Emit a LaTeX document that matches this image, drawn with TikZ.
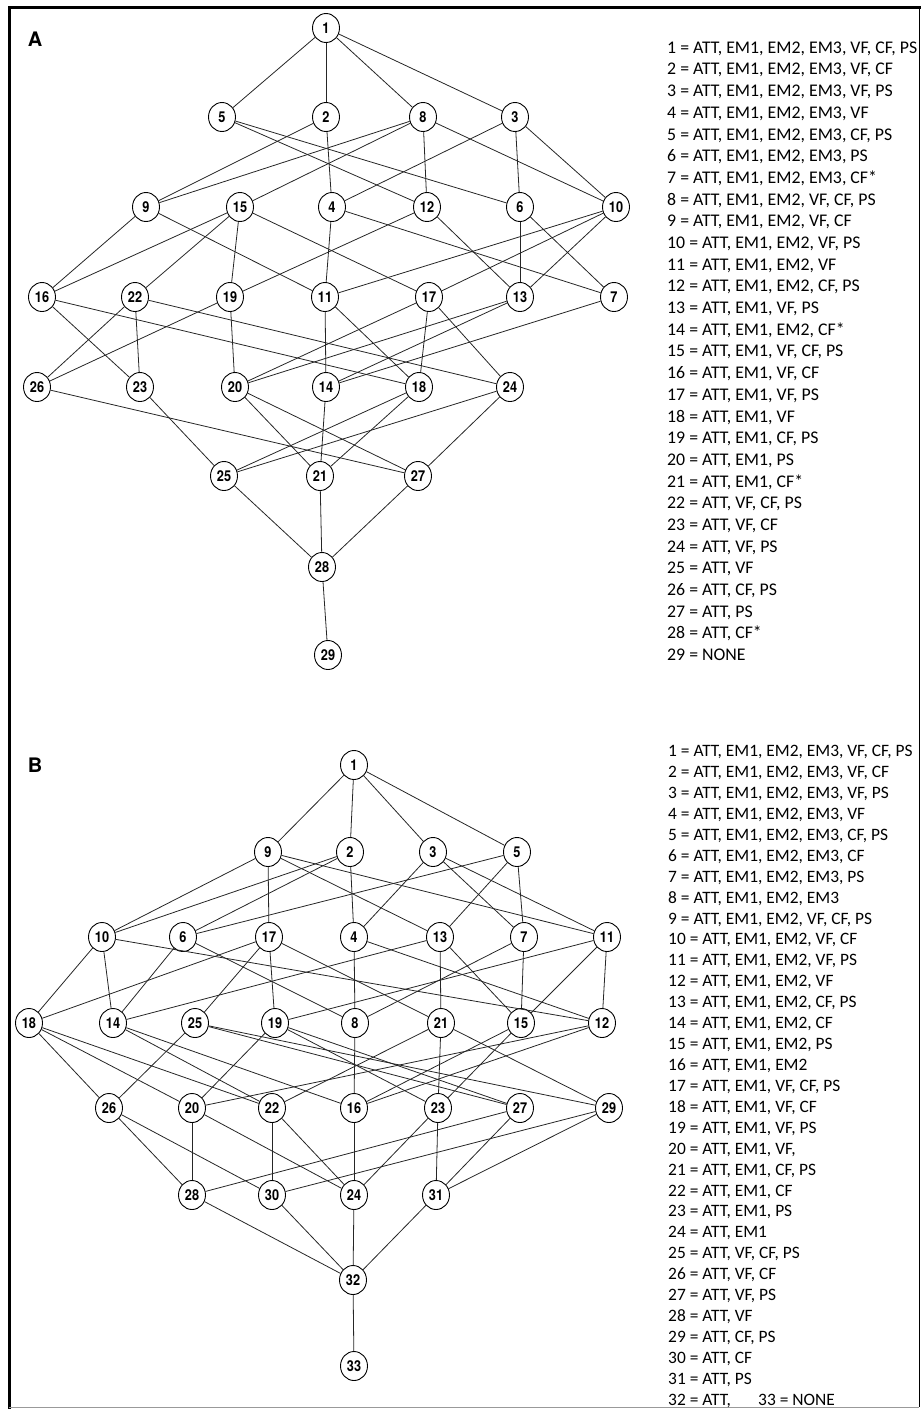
\documentclass[tikz,border=0pt]{standalone}
\usepackage{fontspec}
\setmainfont{Carlito}
\newfontfamily\lblfont[FakeStretch=0.85]{TeX Gyre Heros}
\newfontfamily\panelfont{TeX Gyre Heros}
\usetikzlibrary{shapes.geometric}

\tikzset{
  v/.style={ellipse,draw,line width=0.9pt,fill=white,minimum width=27pt,minimum height=29pt,inner sep=0pt,font=\lblfont\bfseries\fontsize{15}{15}\selectfont},
  lnk/.style={line width=0.8pt,black!85},
  keytxt/.style={anchor=base west,inner sep=0pt,font=\fontsize{17.8}{20}\selectfont},
  keytxtb/.style={keytxt,font=\fontsize{17.4}{20}\selectfont},
  panel/.style={font=\panelfont\bfseries\fontsize{20}{20}\selectfont}
}

\begin{document}
\begin{tikzpicture}[x=1pt,y=-1pt]
\useasboundingbox (0,0) rectangle (922,1409);
% frame
\draw[line width=3pt] (9,1409) -- (9,7) -- (921,7);
\draw[line width=0.8pt] (919,7) -- (919,1407);
\draw[line width=0.8pt,black!40] (9,1407.5) -- (919,1407.5);

%%% panel A
\node[panel] (pA) at (35,39) {A};
\node[v] (a1) at (326,28) {1};
\node[v] (a5) at (222,117) {5};
\node[v] (a2) at (326,117) {2};
\node[v] (a8) at (423,117) {8};
\node[v] (a3) at (515,117) {3};
\node[v] (a9) at (146,207) {9};
\node[v] (a15) at (240,207) {15};
\node[v] (a4) at (332,207) {4};
\node[v] (a12) at (427,207) {12};
\node[v] (a6) at (520,207) {6};
\node[v] (a10) at (616,207) {10};
\node[v] (a16) at (42,297) {16};
\node[v] (a22) at (135,297) {22};
\node[v] (a19) at (230,297) {19};
\node[v] (a11) at (325,297) {11};
\node[v] (a17) at (429,297) {17};
\node[v] (a13) at (520,297) {13};
\node[v] (a7) at (614,297) {7};
\node[v] (a26) at (37,387) {26};
\node[v] (a23) at (140,387) {23};
\node[v] (a20) at (235,387) {20};
\node[v] (a14) at (326,387) {14};
\node[v] (a18) at (419,387) {18};
\node[v] (a24) at (510,387) {24};
\node[v] (a25) at (224,476) {25};
\node[v] (a21) at (320,476) {21};
\node[v] (a27) at (418,476) {27};
\node[v] (a28) at (322,567) {28};
\node[v] (a29) at (328,655) {29};

\path[lnk]
(a1) edge (a5) edge (a2) edge (a8) edge (a3)
(a5) edge (a12) edge (a6)
(a2) edge (a9) edge (a4)
(a8) edge (a9) edge (a15) edge (a12) edge (a10)
(a3) edge (a4) edge (a6) edge (a10)
(a9) edge (a16) edge (a11)
(a15) edge (a16) edge (a22) edge (a19) edge (a17)
(a4) edge (a11) edge (a7)
(a12) edge (a19) edge (a13)
(a6) edge (a13) edge (a7)
(a10) edge (a11) edge (a17) edge (a13)
(a16) edge (a23) edge (a18)
(a22) edge (a26) edge (a23) edge (a24)
(a19) edge (a26) edge (a20)
(a11) edge (a14) edge (a18)
(a17) edge (a20) edge (a18) edge (a24)
(a13) edge (a20) edge (a14)
(a7) edge (a14)
(a26) edge (a27)
(a23) edge (a25)
(a20) edge (a21) edge (a27)
(a14) edge (a21)
(a18) edge (a25) edge (a21)
(a24) edge (a25) edge (a27)
(a25) edge (a28)
(a21) edge (a28)
(a27) edge (a28)
(a28) edge (a29)
;

% key A
\foreach \t [count=\i] in {{ATT, EM1, EM2, EM3, VF, CF, PS},{ATT, EM1, EM2, EM3, VF, CF},
  {ATT, EM1, EM2, EM3, VF, PS},{ATT, EM1, EM2, EM3, VF},{ATT, EM1, EM2, EM3, CF, PS},
  {ATT, EM1, EM2, EM3, PS},{ATT, EM1, EM2, EM3, CF*},{ATT, EM1, EM2, VF, CF, PS},
  {ATT, EM1, EM2, VF, CF},{ATT, EM1, EM2, VF, PS},{ATT, EM1, EM2, VF},
  {ATT, EM1, EM2, CF, PS},{ATT, EM1, VF, PS},{ATT, EM1, EM2, CF*},{ATT, EM1, VF, CF, PS},
  {ATT, EM1, VF, CF},{ATT, EM1, VF, PS},{ATT, EM1, VF},{ATT, EM1, CF, PS},{ATT, EM1, PS},
  {ATT, EM1, CF*},{ATT, VF, CF, PS},{ATT, VF, CF},{ATT, VF, PS},{ATT, VF},{ATT, CF, PS},
  {ATT, PS},{ATT, CF*},{NONE}}
  \node[keytxt] (ka\i) at (667,{53.3+21.69*(\i-1)}) {\i{} = \t};

%%% panel B
\node[panel] (pB) at (35,765) {B};
\node[v] (b1) at (354,765) {1};
\node[v] (b9) at (268,852) {9};
\node[v] (b2) at (350,852) {2};
\node[v] (b3) at (433,852) {3};
\node[v] (b5) at (517,852) {5};
\node[v] (b10) at (102,937) {10};
\node[v] (b6) at (183,937) {6};
\node[v] (b17) at (269,937) {17};
\node[v] (b4) at (354,937) {4};
\node[v] (b13) at (440,937) {13};
\node[v] (b7) at (524,937) {7};
\node[v] (b11) at (607,937) {11};
\node[v] (b18) at (29,1023) {18};
\node[v] (b14) at (113,1023) {14};
\node[v] (b25) at (195,1023) {25};
\node[v] (b19) at (275,1023) {19};
\node[v] (b8) at (355,1023) {8};
\node[v] (b21) at (441,1023) {21};
\node[v] (b15) at (521,1023) {15};
\node[v] (b12) at (602,1023) {12};
\node[v] (b26) at (109,1108) {26};
\node[v] (b20) at (192,1108) {20};
\node[v] (b22) at (272,1108) {22};
\node[v] (b16) at (354,1108) {16};
\node[v] (b23) at (438,1108) {23};
\node[v] (b27) at (520,1108) {27};
\node[v] (b29) at (609,1108) {29};
\node[v] (b28) at (192,1195) {28};
\node[v] (b30) at (272,1195) {30};
\node[v] (b24) at (354,1195) {24};
\node[v] (b31) at (436,1195) {31};
\node[v] (b32) at (353,1280) {32};
\node[v] (b33) at (354,1366) {33};

\path[lnk]
(b1) edge (b9) edge (b2) edge (b3) edge (b5)
(b9) edge (b10) edge (b17) edge (b13) edge (b11)
(b2) edge (b10) edge (b6) edge (b4)
(b3) edge (b4) edge (b7) edge (b11)
(b5) edge (b6) edge (b13) edge (b7)
(b10) edge (b18) edge (b14) edge (b12)
(b6) edge (b14) edge (b8)
(b17) edge (b18) edge (b25) edge (b19) edge (b21)
(b4) edge (b8) edge (b12)
(b13) edge (b14) edge (b21) edge (b15)
(b7) edge (b8) edge (b15)
(b11) edge (b19) edge (b15) edge (b12)
(b18) edge (b26) edge (b20) edge (b22)
(b14) edge (b22) edge (b16)
(b25) edge (b26) edge (b27) edge (b29)
(b19) edge (b20) edge (b23) edge (b27)
(b8) edge (b16)
(b21) edge (b22) edge (b23) edge (b29)
(b15) edge (b16) edge (b23)
(b12) edge (b20) edge (b16)
(b26) edge (b28) edge (b30)
(b20) edge (b28) edge (b24)
(b22) edge (b30) edge (b24)
(b16) edge (b24)
(b23) edge (b24) edge (b31)
(b27) edge (b28) edge (b31)
(b29) edge (b30) edge (b31)
(b28) edge (b32)
(b30) edge (b32)
(b24) edge (b32)
(b31) edge (b32)
(b32) edge (b33)
;

% key B
\foreach \t [count=\i] in {{ATT, EM1, EM2, EM3, VF, CF, PS},{ATT, EM1, EM2, EM3, VF, CF},
  {ATT, EM1, EM2, EM3, VF, PS},{ATT, EM1, EM2, EM3, VF},{ATT, EM1, EM2, EM3, CF, PS},
  {ATT, EM1, EM2, EM3, CF},{ATT, EM1, EM2, EM3, PS},{ATT, EM1, EM2, EM3},
  {ATT, EM1, EM2, VF, CF, PS},{ATT, EM1, EM2, VF, CF},{ATT, EM1, EM2, VF, PS},
  {ATT, EM1, EM2, VF},{ATT, EM1, EM2, CF, PS},{ATT, EM1, EM2, CF},{ATT, EM1, EM2, PS},
  {ATT, EM1, EM2},{ATT, EM1, VF, CF, PS},{ATT, EM1, VF, CF},{ATT, EM1, VF, PS},
  {ATT, EM1, VF,},{ATT, EM1, CF, PS},{ATT, EM1, CF},{ATT, EM1, PS},{ATT, EM1},
  {ATT, VF, CF, PS},{ATT, VF, CF},{ATT, VF, PS},{ATT, VF},{ATT, CF, PS},{ATT, CF},
  {ATT, PS},{ATT,}}
  \node[keytxtb] (kb\i) at (668,{756.7+20.92*(\i-1)}) {\i{} = \t};
\node[keytxtb] (kb33) at (758,1405.2) {33 = NONE};
\end{tikzpicture}
\end{document}
